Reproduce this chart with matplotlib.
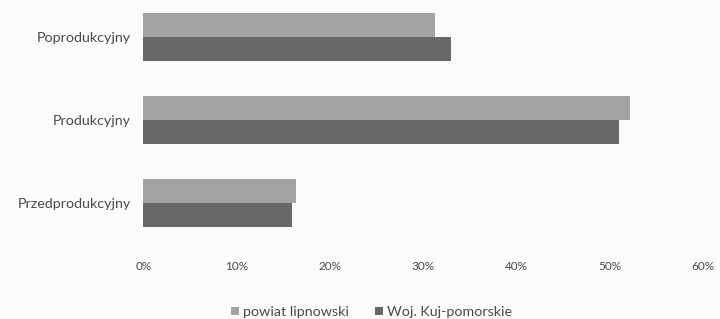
import matplotlib.pyplot as plt
import numpy as np

plt.rcParams['font.family'] = ['Lato', 'DejaVu Sans']

categories = ['Przedprodukcyjny', 'Produkcyjny', 'Poprodukcyjny']
powiat = [16.4, 52.2, 31.3]
woj = [16.0, 51.0, 33.0]
xticks = [0, 10, 20, 30, 40, 50, 60]

text_col = '#4a4a4a'
fig = plt.figure(figsize=(7.2, 3.19), dpi=100)
fig.patch.set_facecolor('#fbfbfa')
ax = fig.add_axes([0.199, 0.207, 0.777, 0.768])
ax.set_facecolor('#fbfbfa')

y = np.arange(len(categories))
h = 0.29
ax.barh(y + h / 2, powiat, height=h, color='#a3a3a3', label='powiat lipnowski')
ax.barh(y - h / 2, woj, height=h, color='#686868', label='Woj. Kuj-pomorskie')

ax.set_xlim(0, 60)
ax.set_ylim(-0.6, 2.35)
ax.set_xticks(xticks)
ax.set_xticklabels([f'{v}%' for v in xticks], color=text_col, fontsize=8.5)
ax.set_yticks(y)
ax.set_yticklabels(categories, color=text_col, fontsize=10.3)
ax.tick_params(length=0, pad=9)
ax.tick_params(axis='x', pad=6)
for s in ax.spines.values():
    s.set_visible(False)

fig.legend(loc='center', bbox_to_anchor=(0.516, 0.022), ncol=2, frameon=False,
           fontsize=10.3, handlelength=0.55, handleheight=0.55, columnspacing=1.8,
           handletextpad=0.3, labelcolor=text_col)

plt.savefig('out.png', dpi=100, facecolor=fig.get_facecolor())
